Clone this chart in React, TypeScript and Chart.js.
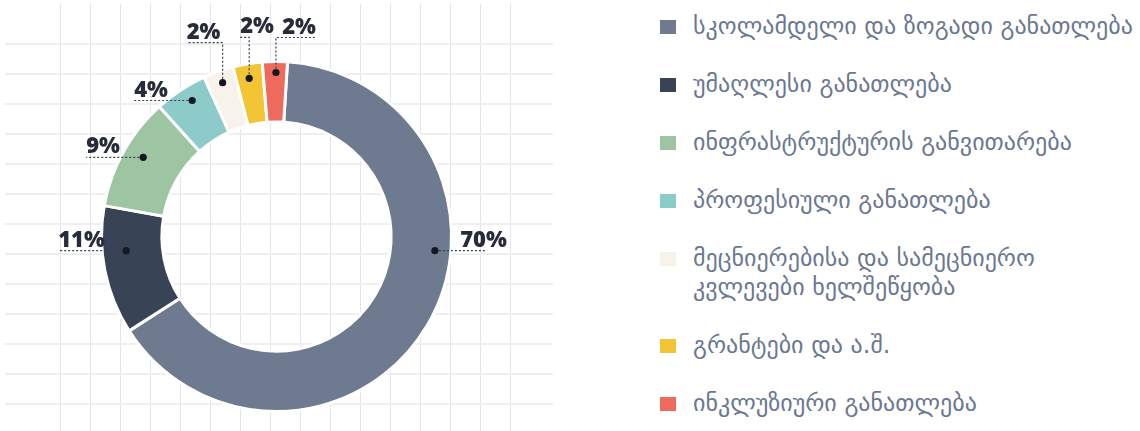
import React, { useEffect, useRef } from 'react';
import { Chart, registerables } from 'chart.js';

Chart.register(...registerables);

// ---- data ----
const categories = [
  'სკოლამდელი და ზოგადი განათლება',
  'უმაღლესი განათლება',
  'ინფრასტრუქტურის განვითარება',
  'პროფესიული განათლება',
  'მეცნიერებისა და სამეცნიერო კვლევები ხელშეწყობა',
  'გრანტები და ა.შ.',
  'ინკლუზიური განათლება',
];
const shares = [65.0, 11.9, 10.5, 4.9, 2.8, 2.7, 2.3];
const percentLabels = ['70%', '11%', '9%', '4%', '2%', '2%', '2%'];
const sliceColors = ['#6e7a90', '#384355', '#9dc5a1', '#8dcaca', '#f7f3ea', '#f3c433', '#ee6a5d'];

// ---- label leader layout (polar anchor around the ring centre, then leader) ----
const leaderLayout = [
  { angle: 95.1, radius: 159, rise: 0, run: 51, textDx: 21 },
  { angle: 264.6, radius: 151, rise: 0, run: -66, textDx: -2 },
  { angle: 300.7, radius: 155, rise: 0, run: -57, textDx: 0 },
  { angle: 328.2, radius: 160, rise: 0, run: -58, textDx: 0 },
  { angle: 340.7, radius: 163, rise: 40, run: -36, textDx: 0 },
  { angle: 350.2, radius: 160.5, rise: 41, run: -9, textDx: 0 },
  { angle: 359.8, radius: 164, rise: 35, run: 40, textDx: 0 },
];

const labelPlugin = {
  id: 'pctLabels',
  afterDatasetsDraw(chart: any) {
    const ctx = chart.ctx;
    const meta = chart.getDatasetMeta(0);
    meta.data.forEach((arc: any, i: number) => {
      const p = arc.getProps(['x', 'y'], true);
      const lay = leaderLayout[i];
      const a = ((lay.angle - 90) * Math.PI) / 180;
      const dx = p.x + Math.cos(a) * lay.radius;
      const dy = p.y + Math.sin(a) * lay.radius;
      const cy = dy - lay.rise;
      const ex = dx + lay.run;
      ctx.save();
      ctx.strokeStyle = '#3b404c';
      ctx.lineWidth = 1.2;
      ctx.setLineDash([2, 2]);
      ctx.beginPath();
      ctx.moveTo(dx, dy);
      if (lay.rise) ctx.lineTo(dx, cy);
      ctx.lineTo(ex, cy);
      ctx.stroke();
      ctx.setLineDash([]);
      ctx.fillStyle = '#141821';
      ctx.beginPath();
      ctx.arc(dx, dy, 3.6, 0, Math.PI * 2);
      ctx.fill();
      ctx.fillStyle = '#272c38';
      ctx.font = '800 22px "Open Sans", "Noto Sans", sans-serif';
      ctx.textBaseline = 'alphabetic';
      ctx.textAlign = lay.run < 0 ? 'left' : 'right';
      ctx.fillText(percentLabels[i], ex + lay.textDx, cy - 4);
      ctx.restore();
    });
  },
};

export default function App() {
  const gridRef = useRef<HTMLCanvasElement>(null);
  const pieRef = useRef<HTMLCanvasElement>(null);

  useEffect(() => {
    const gridChart = new Chart(gridRef.current!, {
      type: 'scatter',
      data: { datasets: [{ data: [] }] },
      options: {
        animation: false,
        responsive: false,
        events: [],
        layout: { padding: 0 },
        plugins: { legend: { display: false }, tooltip: { enabled: false } },
        scales: {
          x: {
            type: 'linear',
            min: -0.857,
            max: 17.41,
            ticks: { display: false, stepSize: 1 },
            border: { display: false },
            grid: { color: '#e3e4ea', lineWidth: 1, drawTicks: false },
            afterBuildTicks: (s: any) => {
              s.ticks = s.ticks.filter((t: any) => Number.isInteger(t.value) && t.value >= 0 && t.value <= 16);
            },
          },
          y: {
            type: 'linear',
            reverse: true,
            min: -0.323,
            max: 13.91,
            ticks: { display: false, stepSize: 1 },
            border: { display: false },
            grid: { color: '#efeff2', lineWidth: 2, drawTicks: false },
            afterBuildTicks: (s: any) => {
              s.ticks = s.ticks.filter((t: any) => Number.isInteger(t.value) && t.value >= 0 && t.value <= 13);
            },
          },
        },
      },
    });

    const pie = new Chart(pieRef.current!, {
      type: 'doughnut',
      data: {
        labels: categories,
        datasets: [
          {
            data: shares,
            backgroundColor: sliceColors,
            borderColor: '#ffffff',
            borderWidth: 3,
            hoverOffset: 0,
          },
        ],
      },
      options: {
        animation: false,
        responsive: false,
        events: [],
        rotation: 3.6,
        cutout: '65.5%',
        layout: { padding: { left: 100, top: 60, right: 107, bottom: 18 } },
        plugins: { legend: { display: false }, tooltip: { enabled: false } },
      },
      plugins: [labelPlugin],
    });

    return () => {
      gridChart.destroy();
      pie.destroy();
    };
  }, []);

  return (
    <div style={{ position: 'absolute', left: 0, top: 0, width: 1140, height: 431, background: '#fff', overflow: 'hidden' }}>
      <canvas ref={gridRef} width={548} height={427} style={{ position: 'absolute', left: 5, top: 4, width: 548, height: 427 }} />
      <canvas ref={pieRef} width={560} height={431} style={{ position: 'absolute', left: 0, top: 0, width: 560, height: 431 }} />
      <div style={{ position: 'absolute', left: 660, top: 12, width: 480, display: 'flex', flexDirection: 'column', gap: 29 }}>
        {categories.map((c, i) => (
          <div key={i} style={{ display: 'flex', alignItems: 'flex-start' }}>
            <span style={{ width: 16, height: 14, marginTop: 8, background: sliceColors[i], flex: '0 0 auto' }} />
            <span
              style={{
                marginLeft: 17,
                width: 447,
                fontFamily: '"DejaVu Sans", sans-serif',
                fontSize: 24,
                lineHeight: '29px',
                color: '#6b7891',
              }}
            >
              {c}
            </span>
          </div>
        ))}
      </div>
    </div>
  );
}
